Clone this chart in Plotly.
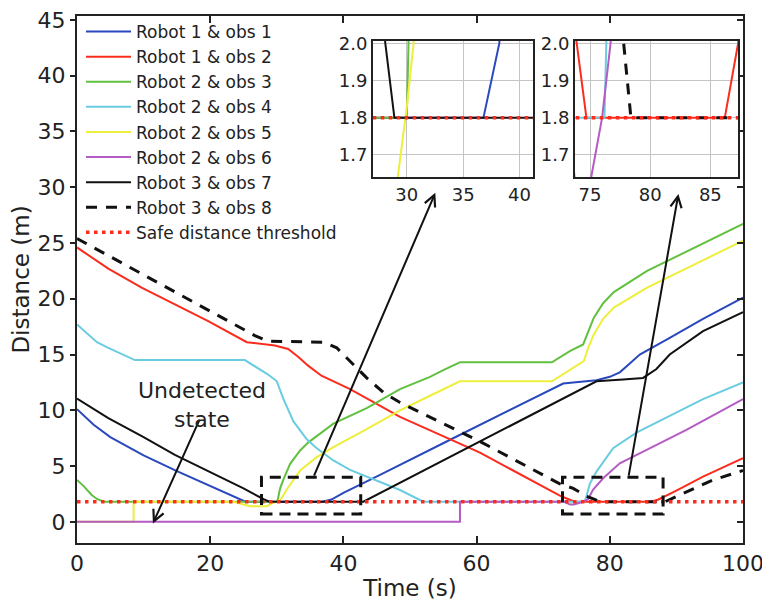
import plotly.graph_objects as go

FONT = "DejaVu Sans"

# ---------------- data (time in s, distance in m) ----------------
names = ["Robot 1 & obs 1", "Robot 1 & obs 2", "Robot 2 & obs 3", "Robot 2 & obs 4",
         "Robot 2 & obs 5", "Robot 2 & obs 6", "Robot 3 & obs 7", "Robot 3 & obs 8",
         "Safe distance threshold"]

t_r1o1 = [0, 2.5, 5, 10, 15, 20, 25.3, 36.8, 38.2, 40, 42.5, 45.5, 55.5, 65, 73, 74.5, 78, 80, 81.5, 83, 84.5, 89, 94, 100]
d_r1o1 = [10.1, 8.7, 7.6, 5.95, 4.55, 3.2, 1.8, 1.8, 2.0, 2.6, 3.3, 4.2, 7.2, 10.0, 12.4, 12.5, 12.7, 13.0, 13.4, 14.2, 15.0, 16.5, 18.2, 20.1]

t_r1o2 = [0, 4.7, 9.7, 14.7, 19.7, 25.5, 29.7, 31.7, 33.2, 34.7, 36.7, 41, 45.5, 48.5, 60.5, 72.5, 73.9, 74.7, 86.2, 87.3, 90, 94, 100]
d_r1o2 = [24.6, 22.7, 21.0, 19.5, 18.0, 16.1, 15.8, 15.5, 14.8, 14.0, 13.1, 11.9, 10.4, 9.4, 6.2, 2.35, 2.0, 1.8, 1.8, 2.0, 2.8, 4.05, 5.7]

t_r2o3 = [0, 1, 2.2, 3, 4, 30.0, 30.15, 30.5, 31, 32, 33.5, 34.7, 38.5, 43.5, 48.5, 53, 55, 57.5, 71.3, 74, 76, 76.6, 77.6, 79, 80.6, 85.6, 100]
d_r2o3 = [3.75, 3.2, 2.4, 2.05, 1.8, 1.8, 2.0, 3.0, 3.8, 5.2, 6.4, 7.1, 8.8, 10.2, 11.9, 13.0, 13.6, 14.3, 14.3, 15.3, 15.9, 16.8, 18.3, 19.6, 20.6, 22.5, 26.7]

t_r2o4 = [0, 1.5, 3, 4.7, 6.5, 8.7, 25.2, 28.7, 30, 31, 32.5, 34.5, 36, 38.5, 41, 45.5, 48.5, 52, 76.2, 76.35, 77, 78, 80.5, 84, 89, 94, 100]
d_r2o4 = [17.7, 16.9, 16.1, 15.6, 15.1, 14.5, 14.5, 13.2, 12.6, 11.0, 9.0, 7.4, 6.6, 5.5, 4.65, 3.6, 2.85, 1.8, 1.8, 2.0, 3.4, 4.5, 6.6, 8.0, 9.5, 11.0, 12.5]

t_r2o5 = [0, 8.5, 8.5, 23.5, 25, 26, 28.5, 29.2, 30, 30.6, 31.5, 33.5, 36, 38.5, 43.5, 45.5, 48.5, 53, 57.5, 71.3, 74, 76.1, 76.7, 77.6, 79, 80.6, 85.6, 100]
d_r2o5 = [0, 0, 1.8, 1.8, 1.55, 1.4, 1.4, 1.64, 1.83, 2.0, 2.9, 4.6, 5.8, 6.7, 8.3, 9.0, 10.0, 11.3, 12.6, 12.6, 13.6, 14.4, 15.5, 16.8, 18.2, 19.2, 21.0, 25.2]

t_r2o6 = [0, 57.5, 57.5, 73.2, 74.0, 74.6, 75.1, 76.0, 76.7, 77.5, 79, 81.5, 86.5, 91.5, 100]
d_r2o6 = [0, 0, 1.8, 1.8, 1.55, 1.55, 1.64, 1.8, 2.0, 2.9, 3.9, 5.25, 6.75, 8.25, 11.0]

t_r3o7 = [0, 2.5, 4.7, 10, 14.7, 20, 25, 28.1, 28.9, 43, 60.5, 74, 78, 82, 85, 87, 89, 94, 100]
d_r3o7 = [11.05, 10.1, 9.3, 7.6, 6.0, 4.45, 3.0, 2.0, 1.8, 1.8, 7.2, 11.4, 12.6, 12.75, 12.9, 13.7, 15.0, 17.1, 18.8]

t_r3o8 = [0, 13, 26.7, 28.7, 33, 37, 39, 41, 43.5, 46, 48.5, 60.5, 72.5, 74.5, 76.5, 77.8, 78.4, 88.3, 90.5, 95.5, 100]
d_r3o8 = [25.4, 21.2, 16.7, 16.2, 16.15, 16.1, 15.6, 14.4, 12.9, 11.6, 10.7, 7.2, 3.4, 3.0, 2.3, 2.0, 1.8, 1.8, 2.4, 3.75, 4.6]

t_safe = [0, 100]
d_safe = [1.8, 1.8]

series_t = [t_r1o1, t_r1o2, t_r2o3, t_r2o4, t_r2o5, t_r2o6, t_r3o7, t_r3o8, t_safe]
series_d = [d_r1o1, d_r1o2, d_r2o3, d_r2o4, d_r2o5, d_r2o6, d_r3o7, d_r3o8, d_safe]

colors = ["#2a48bd", "#fb2c1e", "#62c040", "#6acce0", "#eeee3c", "#b45cc4", "#111111", "#111111", "#ff2a1a"]
widths = [2, 2, 2, 2, 2, 2, 2, 3, 3.5]
dashes = ["solid"] * 7 + ["11px,9px", "3.5px,4.5px"]

# zoom windows and annotation geometry
box1 = (27.7, 42.6, 0.7, 4.0)
box2 = (72.9, 88.0, 0.7, 4.0)
inset1_x = [27.0, 41.2]
inset2_x = [73.75, 87.3]
inset_y = [1.64, 2.008]

fig = go.Figure()

for i in range(9):
    line = dict(color=colors[i], width=widths[i], dash=dashes[i])
    fig.add_trace(go.Scatter(x=series_t[i], y=series_d[i], mode="lines", name=names[i],
                             line=line, xaxis="x", yaxis="y"))
for i in range(9):
    line = dict(color=colors[i], width=widths[i], dash=dashes[i])
    fig.add_trace(go.Scatter(x=series_t[i], y=series_d[i], mode="lines", name=names[i],
                             line=line, xaxis="x2", yaxis="y2", showlegend=False))
    fig.add_trace(go.Scatter(x=series_t[i], y=series_d[i], mode="lines", name=names[i],
                             line=line, xaxis="x3", yaxis="y3", showlegend=False))
# helper trace for the right-hand tick axis
fig.add_trace(go.Scatter(x=[None], y=[None], xaxis="x", yaxis="y4", showlegend=False, hoverinfo="skip"))

# the page body has an 8px margin, so the figure sits at (8, 8) in the window
OFF = 8
W, H = 770 - OFF, 612 - OFF
L, R, T, B = 77 - OFF, 27, 16 - OFF, 69
pw, ph = W - L - R, H - T - B


def px2dom_x(a, b):
    a, b = a - OFF, b - OFF
    return [(a - L) / pw, (b - L) / pw]


def px2dom_y(top, bottom):
    top, bottom = top - OFF, bottom - OFF
    return [(H - B - bottom) / ph, (H - B - top) / ph]


main_yrange = [-1.9, 45.35]
tickfont = dict(family=FONT, size=22, color="#222222")
insetfont = dict(family=FONT, size=18, color="#222222")

common = dict(automargin=False, zeroline=False, ticklabeloverflow="allow")

fig.update_layout(
    width=W, height=H,
    margin=dict(l=L, r=R, t=T, b=B, autoexpand=False),
    paper_bgcolor="white", plot_bgcolor="white",
    font=dict(family=FONT, color="#222222"),
    showlegend=True,
    legend=dict(x=4 / pw, y=1 + 2 / ph, xanchor="left", yanchor="top", bgcolor="rgba(0,0,0,0)",
                itemwidth=45,
                font=dict(family=FONT, size=17, color="#222222"), borderwidth=0),
    xaxis=dict(range=[0, 100], tickvals=[0, 20, 40, 60, 80, 100], ticks="inside", ticklen=7,
               tickwidth=2, tickcolor="#222222", showline=True, linewidth=2, linecolor="#222222",
               mirror="ticks", showgrid=False, tickfont=tickfont,
               title=dict(text="Time (s)", font=dict(family=FONT, size=23, color="#222222"), standoff=4),
               **common),
    yaxis=dict(range=main_yrange, tickvals=list(range(0, 46, 5)), ticks="outside", ticklen=5,
               tickwidth=2, tickcolor="#222222", showline=True, linewidth=2, linecolor="#222222",
               mirror=True, showgrid=False, tickfont=tickfont,
               title=dict(text="Distance (m)", font=dict(family=FONT, size=23, color="#222222"), standoff=6),
               **common),
    yaxis4=dict(range=main_yrange, tickvals=list(range(0, 46, 5)), overlaying="y", side="right",
                anchor="x", ticks="inside", ticklen=6, tickwidth=2, tickcolor="#222222",
                showticklabels=False, showline=False, showgrid=False, **common),
    xaxis2=dict(domain=px2dom_x(373, 533), anchor="y2", range=inset1_x, tickvals=[30, 35, 40],
                showgrid=True, gridcolor="#c4c4c4", gridwidth=1, showline=True, linewidth=2,
                linecolor="#222222", mirror=True, ticks="", tickfont=insetfont, **common),
    yaxis2=dict(domain=px2dom_y(41, 177), anchor="x2", range=inset_y, tickvals=[1.7, 1.8, 1.9, 2.0],
                tickformat=".1f", showgrid=True, gridcolor="#c4c4c4", gridwidth=1, showline=True,
                linewidth=2, linecolor="#222222", mirror=True, ticks="", tickfont=insetfont, **common),
    xaxis3=dict(domain=px2dom_x(575, 738), anchor="y3", range=inset2_x, tickvals=[75, 80, 85],
                showgrid=True, gridcolor="#c4c4c4", gridwidth=1, showline=True, linewidth=2,
                linecolor="#222222", mirror=True, ticks="", tickfont=insetfont, **common),
    yaxis3=dict(domain=px2dom_y(41, 177), anchor="x3", range=inset_y, tickvals=[1.7, 1.8, 1.9, 2.0],
                tickformat=".1f", showgrid=True, gridcolor="#c4c4c4", gridwidth=1, showline=True,
                linewidth=2, linecolor="#222222", mirror=True, ticks="", tickfont=insetfont, **common),
)

for (x0, x1, y0, y1) in (box1, box2):
    fig.add_shape(type="rect", xref="x", yref="y", x0=x0, x1=x1, y0=y0, y1=y1,
                  line=dict(color="#111111", width=3, dash="11px,7px"), fillcolor="rgba(0,0,0,0)")

arrows = [
    # (tail_x, tail_y, head_x, head_y) in data units of the main axes
    (35.5, 4.0, 53.8, 29.5),
    (82.8, 4.0, 90.3, 29.4),
    (18.5, 9.3, 11.4, -0.15),
]
for (tx, ty, hx, hy) in arrows:
    fig.add_annotation(x=hx, y=hy, ax=tx, ay=ty, xref="x", yref="y", axref="x", ayref="y",
                       text="", showarrow=True, arrowhead=5, arrowsize=1.1, arrowwidth=2,
                       arrowcolor="#111111", standoff=0, startstandoff=0)

fig.add_annotation(x=18.8, y=10.45, xref="x", yref="y", text="Undetected<br>state", showarrow=False,
                   font=dict(family=FONT, size=22, color="#222222"), align="center")

fig.write_html("out.html")
